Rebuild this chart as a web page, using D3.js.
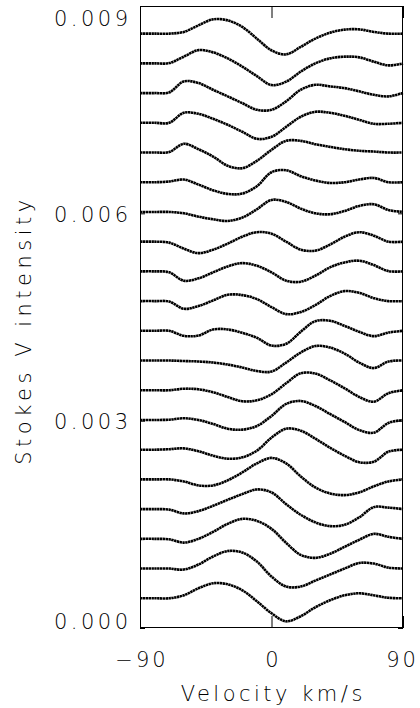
<!DOCTYPE html>
<html>
<head>
<meta charset="utf-8">
<script src="https://cdn.jsdelivr.net/npm/d3@7"></script>
<style>
  body { margin: 0; background: #fff; }
  text { font-family: "DejaVu Sans", sans-serif; font-weight: 200; font-size: 21px; letter-spacing: 3.5px; fill: #000; }
  .profile { fill: none; stroke: #000; stroke-width: 2.6; stroke-dasharray: 2.4 0.45; }
  .tick line { stroke: #000; }
</style>
</head>
<body>
<svg id="chart" width="420" height="708"></svg>
<script>
// velocity grid (km/s)
const velocity = [-90, -80, -70, -60, -50, -40, -30, -20, -10, 0, 10, 20, 30, 40, 50, 60, 70, 80, 90];

// vertical offset of each profile, bottom to top
const offsets = [0.00043, 0.00086, 0.00129, 0.00172, 0.00215, 0.00258, 0.00301, 0.00344, 0.00387, 0.0043,
  0.00473, 0.00516, 0.00559, 0.00602, 0.00645, 0.00688, 0.00731, 0.00774, 0.00817, 0.0086];

// Stokes V profiles in units of 1e-4, bottom to top
const profiles = [
  [0, 0, 0, 0.43, 1.45, 2.17, 2.03, 1.16, -0.43, -2.17, -3.33, -2.60, -1.30, -0.29, 0.43, 0.72, 0.43, 0.07, 0],
  [0, 0, 0, -0.14, 0.58, 1.74, 2.53, 2.32, 1.01, -1.16, -2.60, -2.60, -1.74, -0.87, 0, 0.80, 0.72, 0.14, 0],
  [0, 0, -0.07, -0.54, 0, 1.01, 2.17, 2.89, 2.60, 1.45, -0.58, -2.32, -2.75, -2.17, -1.16, -0.14, 0.72, 0.29, 0],
  [0, 0, -0.07, -0.62, -0.29, 0.48, 1.35, 2.17, 2.85, 2.42, 0.72, -0.82, -1.92, -2.46, -2.27, -1.20, 0.29, 0.22, 0],
  [0, 0, 0, -0.29, -0.87, -0.87, -0.14, 1.01, 2.32, 3.11, 2.32, 0.43, -1.16, -2.03, -2.27, -1.88, -1.01, -0.29, 0],
  [0, 0, 0.07, 0.19, -0.22, -0.87, -1.30, -1.11, -0.14, 1.74, 3.04, 2.75, 1.59, 0.29, -0.87, -1.81, -1.74, -0.29, 0],
  [0, 0, 0.04, 0.25, 0, -0.58, -1.26, -1.40, -0.87, 0.58, 2.32, 2.75, 2.03, 0.87, -0.29, -1.45, -1.84, -0.43, 0],
  [0, 0, 0, 0.22, 0.14, -0.29, -0.97, -1.59, -1.45, -0.58, 1.01, 2.46, 2.42, 1.45, 0.29, -0.97, -1.66, -0.43, 0],
  [0, 0, 0, -0.07, -0.14, -0.29, -0.58, -1.01, -1.52, -1.59, -0.29, 1.16, 2.10, 1.88, 1.01, -0.29, -1.09, -0.14, 0],
  [0, 0, 0, -0.72, -0.68, 0.19, 0.20, -0.29, -1.01, -2.13, -1.88, -0.14, 1.40, 1.45, 0.72, -0.14, -0.77, -0.25, 0],
  [0, 0, -0.07, -1.11, -0.72, 0.10, 0.91, 0.87, 0.29, -0.87, -1.88, -1.59, -0.58, 0.72, 1.45, 1.20, 0.43, 0, 0],
  [0, 0, -0.14, -1.35, -1.01, -0.14, 0.72, 1.20, 0.82, -0.14, -1.35, -1.49, -0.62, 0.58, 1.30, 1.55, 0.91, 0.04, 0],
  [0, 0, -0.14, -1.01, -1.66, -1.16, -0.29, 0.72, 1.37, 1.16, 0, -1.16, -1.30, -0.43, 0.72, 1.37, 0.87, 0, 0],
  [0, 0, 0, -0.19, -0.68, -1.06, -1.30, -0.82, 0.39, 1.74, 1.45, 0.48, -0.19, -0.33, 0.14, 0.87, 1.11, 0.29, 0],
  [0, 0, 0.10, 0.39, -0.33, -1.16, -1.69, -1.64, -0.58, 1.45, 1.74, 0.87, 0.25, -0.10, 0, 0.39, 0.62, 0, 0],
  [0, 0, 0.07, 1.26, 0.48, -0.58, -1.92, -2.27, -1.20, 0.39, 1.69, 1.69, 1.20, 0.82, 0.48, 0.25, 0.14, 0, 0],
  [0, 0, 0, 1.45, 1.30, 0.58, -0.29, -1.30, -2.32, -2.03, -0.58, 0.87, 1.59, 1.45, 1.01, 0.43, -0.14, -0.14, 0],
  [0, 0, 0.10, 1.69, 1.45, 0.48, -0.48, -1.45, -2.42, -2.42, -1.20, 0.48, 1.20, 0.97, 0.72, 0.25, -0.25, -0.48, 0],
  [0, 0, 0.04, 0.97, 1.92, 1.59, 0.72, -0.48, -1.84, -3.14, -2.65, -1.20, 0, 0.72, 0.97, 0.87, 0.25, -0.29, 0],
  [0, 0, 0, 0.25, 1.20, 2.07, 1.92, 0.97, -0.72, -2.42, -3.00, -1.92, -0.72, 0.14, 0.58, 0.62, 0.25, 0, 0]
];

const xTicks = [-90, 0, 90];
const yTicks = [0, 0.003, 0.006, 0.009];

const plot = { left: 140, right: 403, top: 6, bottom: 628 };
const svg = d3.select("#chart");

const x = d3.scaleLinear().domain([-90, 90]).range([plot.left, plot.right]);
const y = d3.scaleLinear().domain([0, 0.009]).range([plot.bottom, plot.top]);

const line = d3.line()
  .x((d, i) => x(velocity[i]))
  .y(d => d)
  .curve(d3.curveCatmullRom.alpha(0.5));

svg.append("g")
  .selectAll("path")
  .data(profiles)
  .enter()
  .append("path")
  .attr("class", "profile")
  .attr("d", (p, k) => line(p.map(v => y(offsets[k] + v * 1e-4))));

// axes, ticks point inward
svg.append("g")
  .attr("transform", `translate(0,${plot.bottom})`)
  .call(d3.axisBottom(x).tickValues(xTicks).tickSize(-12).tickPadding(24).tickFormat(d3.format("d")))
  .call(g => g.select(".domain").remove())
  .call(g => g.selectAll("text")
    .style("letter-spacing", "3px")
    .attr("dx", d => d === 90 ? "-1px" : "1.5px"));

svg.append("g")
  .attr("transform", `translate(0,${plot.top})`)
  .call(d3.axisTop(x).tickValues(xTicks).tickSize(-12).tickFormat(""))
  .call(g => g.select(".domain").remove());

svg.append("g")
  .attr("transform", `translate(${plot.left},0)`)
  .call(d3.axisLeft(y).tickValues(yTicks).tickSize(-5).tickPadding(8.5).tickFormat(d3.format(".3f")))
  .call(g => g.select(".domain").remove())
  .call(g => g.selectAll("text")
    .attr("dy", d => d === 0 ? "0px" : d === 0.009 ? "19px" : "8px"));

svg.append("g")
  .attr("transform", `translate(${plot.right},0)`)
  .call(d3.axisRight(y).tickValues(yTicks).tickSize(-5).tickFormat(""))
  .call(g => g.select(".domain").remove());

svg.append("rect")
  .attr("x", plot.left + 0.5)
  .attr("y", plot.top + 0.5)
  .attr("width", plot.right - plot.left - 1)
  .attr("height", plot.bottom - plot.top - 1)
  .attr("fill", "none")
  .attr("stroke", "#000");

svg.append("text")
  .attr("x", (plot.left + plot.right) / 2 + 1.75)
  .attr("y", 701)
  .attr("text-anchor", "middle")
  .text("Velocity km/s");

svg.append("text")
  .attr("transform", "translate(31,330) rotate(-90)")
  .attr("text-anchor", "middle")
  .style("letter-spacing", "4.5px")
  .text("Stokes V intensity");
</script>
</body>
</html>
